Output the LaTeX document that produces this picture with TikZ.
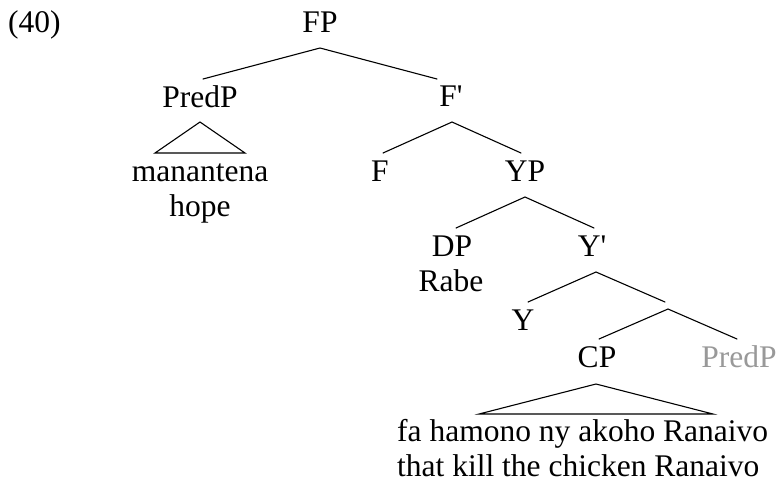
\documentclass[tikz,border=0pt]{standalone}
\usepackage{fontspec}
\setmainfont{Liberation Serif}[Ligatures=TeXOff]
\begin{document}
\begin{tikzpicture}[x=1pt,y=-1pt,
  lab/.style={inner sep=0pt,anchor=base,font=\fontsize{31.5pt}{35pt}\selectfont},
  labw/.style={lab,anchor=base west},
  ghost/.style={lab,text=black!40},
  br/.style={line width=1.1pt,line cap=round,line join=miter}]
\useasboundingbox (0,0) rectangle (778,483);
% labels
\node[labw] (ex) at (8,32) {(40)};
\node[lab] (FP) at (320,32) {FP};
\node[lab] (PredP) at (200,107) {PredP};
\node[lab] (Fb) at (451,106) {F'};
\node[lab] (mana) at (200,181) {manantena};
\node[lab] (hope) at (200,216) {hope};
\node[lab] (F) at (380,181) {F};
\node[lab] (YP) at (525,181) {YP};
\node[lab] (DP) at (452,256) {DP};
\node[lab] (Rabe) at (451,291) {Rabe};
\node[lab] (Yb) at (592,256) {Y'};
\node[lab] (Y) at (523,330) {Y};
\node[lab] (CP) at (597,367) {CP};
\node[ghost] (PredP2) at (739,367) {PredP};
\node[labw] (fa) at (397,441) {fa hamono ny akoho Ranaivo};
\node[labw] (that) at (397,476) {that kill the chicken Ranaivo};
% branch end points
\coordinate (FP-d) at (320,48);
\coordinate (PredP-u) at (203,79);
\coordinate (Fb-u) at (437,79);
\coordinate (PredP-d) at (200,122);
\coordinate (tri1-l) at (155,153);
\coordinate (tri1-r) at (245,153);
\coordinate (Fb-d) at (452,122);
\coordinate (F-u) at (383,153);
\coordinate (YP-u) at (521,153);
\coordinate (YP-d) at (525,197);
\coordinate (DP-u) at (456,228);
\coordinate (Yb-u) at (594,228);
\coordinate (Yb-d) at (596,272);
\coordinate (Y-u) at (528,302);
\coordinate (X-u) at (665,302);
\coordinate (X-d) at (668,309);
\coordinate (CP-u) at (599,339);
\coordinate (PredP2-u) at (737,339);
\coordinate (CP-d) at (596,384);
\coordinate (tri2-l) at (479,414);
\coordinate (tri2-r) at (713,414);
% branches
\draw[br] (PredP-u) -- (FP-d) -- (Fb-u);
\draw[br] (tri1-l) -- (PredP-d) -- (tri1-r) -- cycle;
\draw[br] (F-u) -- (Fb-d) -- (YP-u);
\draw[br] (DP-u) -- (YP-d) -- (Yb-u);
\draw[br] (Y-u) -- (Yb-d) -- (X-u);
\draw[br] (CP-u) -- (X-d) -- (PredP2-u);
\draw[br] (tri2-l) -- (CP-d) -- (tri2-r) -- cycle;
\end{tikzpicture}
\end{document}
